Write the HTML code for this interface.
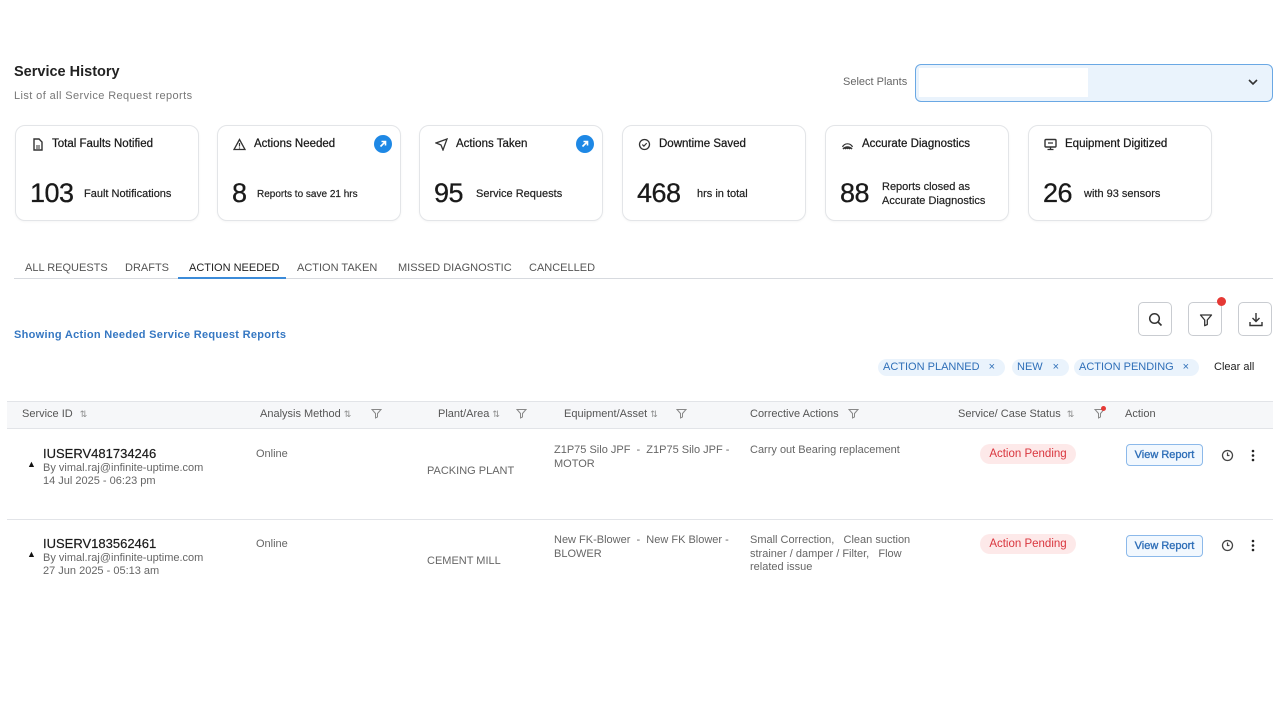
<!DOCTYPE html>
<html><head><meta charset="utf-8">
<style>
*{box-sizing:border-box;margin:0;padding:0}
body{width:1280px;height:720px;background:#fff;font-family:"Liberation Sans",sans-serif;color:#222;position:relative;overflow:hidden}
.a{position:absolute;white-space:nowrap}
.card{position:absolute;top:125px;width:184px;height:96px;border:1px solid #e3e5e8;border-radius:10px;background:#fff;box-shadow:0 1px 2px rgba(0,0,0,0.04)}
.card .t{position:absolute;left:36px;top:12px;font-size:11.5px;color:#1a1a1a;-webkit-text-stroke:0.25px #1a1a1a}
.card .ic{position:absolute;left:15px;top:12px;width:13px;height:13px}
.card .n{position:absolute;left:14px;top:52px;font-size:27px;color:#1a1a1a;letter-spacing:-0.5px;-webkit-text-stroke:0.3px #1a1a1a}
.card .s{position:absolute;font-size:11px;color:#222;-webkit-text-stroke:0.2px #222}
.go{position:absolute;right:8px;top:9px;width:18px;height:18px;border-radius:50%;background:#1e88e5}
.tab{position:absolute;top:261px;font-size:11px;color:#555}
.hd{position:absolute;top:408px;font-size:11px;color:#555}
.sm{font-size:11px;color:#666}
.btn{position:absolute;top:302px;width:34px;height:34px;border:1px solid #c9ccd1;border-radius:5px;background:#fff}
.chip{position:absolute;top:359px;height:17px;border-radius:9px;background:#eaf3fc;color:#2f6fb8;font-size:11px;line-height:17px;padding-left:5px}
.chip b{font-weight:normal;position:absolute;right:10px;top:0;color:#2f6fb8}
.pill{position:absolute;left:980px;width:96px;height:20px;border-radius:10px;background:#fde9e9;color:#d9363e;font-size:11.5px;text-align:center;line-height:20px}
.vr{position:absolute;left:1126px;width:77px;height:22px;border:1px solid #8cb9ea;border-radius:4px;background:#f2f8fe;color:#2f6fb8;font-size:11px;text-align:center;line-height:20px;-webkit-text-stroke:0.35px #2f6fb8}
.txt{position:absolute;font-size:11px;color:#666;line-height:13.5px}
</style></head><body>

<div class="a" style="left:14px;top:64px;font-size:14.5px;font-weight:bold;color:#222">Service History</div>
<div class="a" style="left:14px;top:90px;font-size:11px;color:#777;letter-spacing:0.4px">List of all Service Request reports</div>

<div class="a" style="left:843px;top:76px;font-size:11px;color:#666">Select Plants</div>
<div class="a" style="left:915px;top:64px;width:358px;height:38px;border:1.5px solid #6aa8e4;border-radius:6px;background:#eaf3fc;overflow:hidden">
  <div style="position:absolute;left:3px;top:3px;width:169px;height:29px;background:#fff"></div>
  <svg style="position:absolute;right:13px;top:12px" width="12" height="10" viewBox="0 0 12 10"><path d="M2 3l4 4 4-4" stroke="#333" stroke-width="1.6" fill="none"/></svg>
</div>

<!-- cards -->
<div class="card" style="left:15px">
  <svg class="ic" viewBox="0 0 13 13"><path d="M3 1h5l3 3v8H3z" fill="none" stroke="#333" stroke-width="1.4"/><path d="M5 8h4M5 10h4" stroke="#333"/></svg>
  <div class="t">Total Faults Notified</div>
  <div class="n">103</div>
  <div class="s" style="left:68px;top:62px">Fault Notifications</div>
</div>
<div class="card" style="left:217px">
  <svg class="ic" viewBox="0 0 13 13"><path d="M6.5 1.5L12 11.5H1z" fill="none" stroke="#333" stroke-width="1.3"/><path d="M6.5 5v3.5M6.5 9.5v1" stroke="#333" stroke-width="1.2"/></svg>
  <div class="t">Actions Needed</div>
  <div class="go"><svg width="18" height="18" viewBox="0 0 18 18"><path d="M6.5 11.5l5-5M7.5 6.5h4v4" stroke="#fff" stroke-width="1.6" fill="none"/></svg></div>
  <div class="n">8</div>
  <div class="s" style="left:39px;top:63px;font-size:10px">Reports to save 21 hrs</div>
</div>
<div class="card" style="left:419px">
  <svg class="ic" viewBox="0 0 13 13"><path d="M12 1L1 5l5 2 2 5z" fill="none" stroke="#333" stroke-width="1.3"/></svg>
  <div class="t">Actions Taken</div>
  <div class="go"><svg width="18" height="18" viewBox="0 0 18 18"><path d="M6.5 11.5l5-5M7.5 6.5h4v4" stroke="#fff" stroke-width="1.6" fill="none"/></svg></div>
  <div class="n">95</div>
  <div class="s" style="left:56px;top:62px">Service Requests</div>
</div>
<div class="card" style="left:622px">
  <svg class="ic" viewBox="0 0 13 13"><circle cx="6.5" cy="6.5" r="5" fill="none" stroke="#333" stroke-width="1.3"/><path d="M4.3 6.6l1.6 1.5 2.8-3" stroke="#333" stroke-width="1.2" fill="none"/></svg>
  <div class="t">Downtime Saved</div>
  <div class="n">468</div>
  <div class="s" style="left:74px;top:62px">hrs in total</div>
</div>
<div class="card" style="left:825px">
  <svg class="ic" viewBox="0 0 13 13"><path d="M2 11A6 6 0 0 1 11 11M3.8 11a3.6 3.6 0 0 1 5.4 0" fill="none" stroke="#333" stroke-width="1.5"/><path d="M1.5 9a5.5 5.5 0 0 1 10 0" fill="none" stroke="#333" stroke-width="1.2"/><circle cx="6.5" cy="10" r="1.2" fill="#333"/></svg>
  <div class="t">Accurate Diagnostics</div>
  <div class="n">88</div>
  <div class="s" style="left:56px;top:54px;line-height:14px">Reports closed as<br>Accurate Diagnostics</div>
</div>
<div class="card" style="left:1028px">
  <svg class="ic" viewBox="0 0 13 13"><rect x="1" y="1.5" width="11" height="7.5" rx="1" fill="none" stroke="#333" stroke-width="1.4"/><path d="M6.5 9v2.5M3.5 11.5h6M4 5h5" stroke="#333" stroke-width="1.3"/></svg>
  <div class="t">Equipment Digitized</div>
  <div class="n">26</div>
  <div class="s" style="left:55px;top:62px">with 93 sensors</div>
</div>

<!-- tabs -->
<div class="a" style="left:14px;top:278px;width:1259px;height:1px;background:#d7dadf"></div>
<div class="tab" style="left:25px;top:262px">ALL REQUESTS</div>
<div class="tab" style="left:125px;top:262px">DRAFTS</div>
<div class="tab" style="left:189px;top:262px;color:#222">ACTION NEEDED</div>
<div class="a" style="left:178px;top:277px;width:108px;height:2px;background:#3b8bd9"></div>
<div class="tab" style="left:297px;top:262px">ACTION TAKEN</div>
<div class="tab" style="left:398px;top:262px">MISSED DIAGNOSTIC</div>
<div class="tab" style="left:529px;top:262px">CANCELLED</div>

<div class="a" style="left:14px;top:329px;font-size:11px;font-weight:bold;color:#3577c2;letter-spacing:0.3px">Showing Action Needed Service Request Reports</div>

<!-- buttons -->
<div class="btn" style="left:1138px"><svg width="34" height="34" viewBox="0 0 34 34"><circle cx="15.5" cy="15.5" r="4.8" fill="none" stroke="#333" stroke-width="1.5"/><path d="M19 19l3.5 3.5" stroke="#333" stroke-width="1.6"/></svg></div>
<div class="btn" style="left:1188px"><svg width="34" height="34" viewBox="0 0 34 34"><path d="M11.5 12h11l-4.2 5v4.5l-2.6 1.2V17z" fill="none" stroke="#333" stroke-width="1.3" stroke-linejoin="round"/></svg></div>
<div class="a" style="left:1217px;top:297px;width:9px;height:9px;border-radius:50%;background:#e53935"></div>
<div class="btn" style="left:1238px"><svg width="34" height="34" viewBox="0 0 34 34"><path d="M17 10v8M13.5 15l3.5 3.5 3.5-3.5M11 19v3.5h12V19" fill="none" stroke="#333" stroke-width="1.4"/></svg></div>

<!-- chips -->
<div class="chip" style="left:878px;width:127px">ACTION PLANNED<b>×</b></div>
<div class="chip" style="left:1012px;width:57px">NEW<b>×</b></div>
<div class="chip" style="left:1074px;width:125px">ACTION PENDING<b>×</b></div>
<div class="a" style="left:1214px;top:361px;font-size:11px;color:#222">Clear all</div>

<!-- table header -->
<div class="a" style="left:7px;top:401px;width:1266px;height:28px;background:#f6f7f9;border-top:1px solid #e2e4e8;border-bottom:1px solid #e2e4e8"></div>
<div class="hd" style="left:22px">Service ID <span style="color:#888;font-size:9px;margin-left:4px">⇅</span></div>
<div class="hd" style="left:260px">Analysis Method <span style="color:#888;font-size:9px">⇅</span></div>
<div class="hd" style="left:438px">Plant/Area <span style="color:#888;font-size:9px">⇅</span></div>
<div class="hd" style="left:564px">Equipment/Asset <span style="color:#888;font-size:9px">⇅</span></div>
<div class="hd" style="left:750px">Corrective Actions</div>
<div class="hd" style="left:958px">Service/ Case Status <span style="color:#888;font-size:9px;margin-left:3px">⇅</span></div>
<div class="hd" style="left:1125px">Action</div>
<svg class="a" style="left:371px;top:408px" width="11" height="11" viewBox="0 0 11 11"><path d="M1 1.5h9L6.5 5.5V9L4.5 10V5.5z" fill="none" stroke="#888" stroke-width="1"/></svg>
<svg class="a" style="left:516px;top:408px" width="11" height="11" viewBox="0 0 11 11"><path d="M1 1.5h9L6.5 5.5V9L4.5 10V5.5z" fill="none" stroke="#888" stroke-width="1"/></svg>
<svg class="a" style="left:676px;top:408px" width="11" height="11" viewBox="0 0 11 11"><path d="M1 1.5h9L6.5 5.5V9L4.5 10V5.5z" fill="none" stroke="#888" stroke-width="1"/></svg>
<svg class="a" style="left:848px;top:408px" width="11" height="11" viewBox="0 0 11 11"><path d="M1 1.5h9L6.5 5.5V9L4.5 10V5.5z" fill="none" stroke="#888" stroke-width="1"/></svg>
<svg class="a" style="left:1094px;top:408px" width="11" height="11" viewBox="0 0 11 11"><path d="M1 1.5h9L6.5 5.5V9L4.5 10V5.5z" fill="none" stroke="#888" stroke-width="1"/></svg>
<div class="a" style="left:1101px;top:406px;width:5px;height:5px;border-radius:50%;background:#e53935"></div>

<!-- row 1 -->
<div class="a" style="left:43px;top:446px;font-size:13px;color:#1a1a1a;-webkit-text-stroke:0.2px #1a1a1a">IUSERV481734246</div>
<div class="a" style="left:27px;top:459px;font-size:9px;color:#111">▲</div>
<div class="a sm" style="left:43px;top:462px">By vimal.raj@infinite-uptime.com</div>
<div class="a sm" style="left:43px;top:475px">14 Jul 2025 - 06:23 pm</div>
<div class="a sm" style="left:256px;top:448px">Online</div>
<div class="a sm" style="left:427px;top:465px">PACKING PLANT</div>
<div class="txt" style="left:554px;top:444px">Z1P75 Silo JPF &nbsp;- &nbsp;Z1P75 Silo JPF -<br>MOTOR</div>
<div class="txt" style="left:750px;top:444px">Carry out Bearing replacement</div>
<div class="pill" style="top:444px">Action Pending</div>
<div class="vr" style="top:444px">View Report</div>
<svg class="a" style="left:1221px;top:449px" width="13" height="13" viewBox="0 0 13 13"><circle cx="6.5" cy="6.5" r="5" fill="none" stroke="#444" stroke-width="1.3"/><path d="M6.5 3.5v3h2" stroke="#444" stroke-width="1.2" fill="none"/></svg>
<svg class="a" style="left:1250px;top:449px" width="6" height="13" viewBox="0 0 6 13"><circle cx="3" cy="2" r="1.3" fill="#222"/><circle cx="3" cy="6.5" r="1.3" fill="#222"/><circle cx="3" cy="11" r="1.3" fill="#222"/></svg>

<div class="a" style="left:7px;top:519px;width:1266px;height:1px;background:#e2e4e8"></div>

<!-- row 2 -->
<div class="a" style="left:43px;top:536px;font-size:13px;color:#1a1a1a;-webkit-text-stroke:0.2px #1a1a1a">IUSERV183562461</div>
<div class="a" style="left:27px;top:549px;font-size:9px;color:#111">▲</div>
<div class="a sm" style="left:43px;top:552px">By vimal.raj@infinite-uptime.com</div>
<div class="a sm" style="left:43px;top:565px">27 Jun 2025 - 05:13 am</div>
<div class="a sm" style="left:256px;top:538px">Online</div>
<div class="a sm" style="left:427px;top:555px">CEMENT MILL</div>
<div class="txt" style="left:554px;top:534px">New FK-Blower &nbsp;- &nbsp;New FK Blower -<br>BLOWER</div>
<div class="txt" style="left:750px;top:534px">Small Correction, &nbsp;&nbsp;Clean suction<br>strainer / damper / Filter, &nbsp;&nbsp;Flow<br>related issue</div>
<div class="pill" style="top:534px">Action Pending</div>
<div class="vr" style="top:535px">View Report</div>
<svg class="a" style="left:1221px;top:539px" width="13" height="13" viewBox="0 0 13 13"><circle cx="6.5" cy="6.5" r="5" fill="none" stroke="#444" stroke-width="1.3"/><path d="M6.5 3.5v3h2" stroke="#444" stroke-width="1.2" fill="none"/></svg>
<svg class="a" style="left:1250px;top:539px" width="6" height="13" viewBox="0 0 6 13"><circle cx="3" cy="2" r="1.3" fill="#222"/><circle cx="3" cy="6.5" r="1.3" fill="#222"/><circle cx="3" cy="11" r="1.3" fill="#222"/></svg>

</body></html>
